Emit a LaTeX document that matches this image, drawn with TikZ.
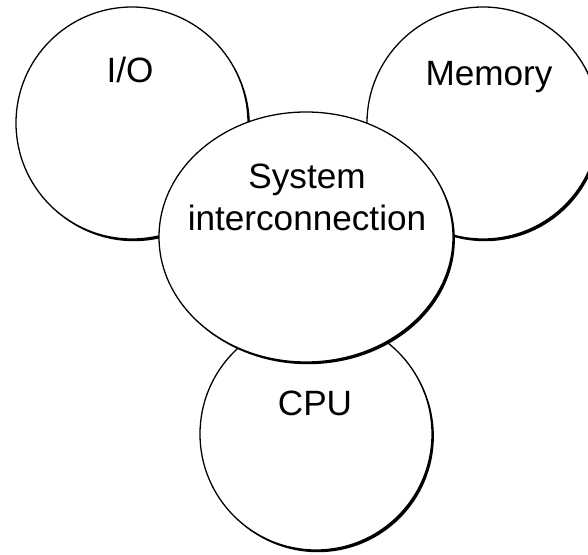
\documentclass[tikz,border=0pt]{standalone}
\usepackage{fontspec}
\setmainfont{Liberation Sans}
\usetikzlibrary{shapes.geometric, shadows, positioning, calc}

\begin{document}
\begin{tikzpicture}[
  x=0.03cm, y=-0.03cm,
  unit/.style={circle, draw, fill=white, line width=1.1pt, minimum size=6.96cm, inner sep=0pt,
    drop shadow={shadow xshift=1.6pt, shadow yshift=-1.9pt, opacity=1, fill=black}},
  bus/.style={ellipse, draw, fill=white, line width=1.1pt, minimum width=8.82cm, minimum height=7.5cm, inner sep=0pt,
    drop shadow={shadow xshift=1.6pt, shadow yshift=-1.9pt, opacity=1, fill=black}},
  lbl/.style={font=\fontsize{30}{36}\selectfont, align=center, inner sep=0pt}
]
  \useasboundingbox (0,0) rectangle (588,554);
  \node[unit] (io) at (132,123) {};
  \node[unit] (mem) at (483,123) {};
  \node[unit] (cpu) at (316,434) {};
  \node[bus] (sys) at (306,237) {};
  \node[lbl, anchor=base] (iolbl) at (130,82) {I/O};
  \node[lbl, anchor=base] (memlbl) at (489,85) {Memory};
  \node[lbl, anchor=base] (cpulbl) at (315,415) {CPU};
  \node[lbl] (syslbl) at (307,197) {System\\interconnection};
\end{tikzpicture}
\end{document}
